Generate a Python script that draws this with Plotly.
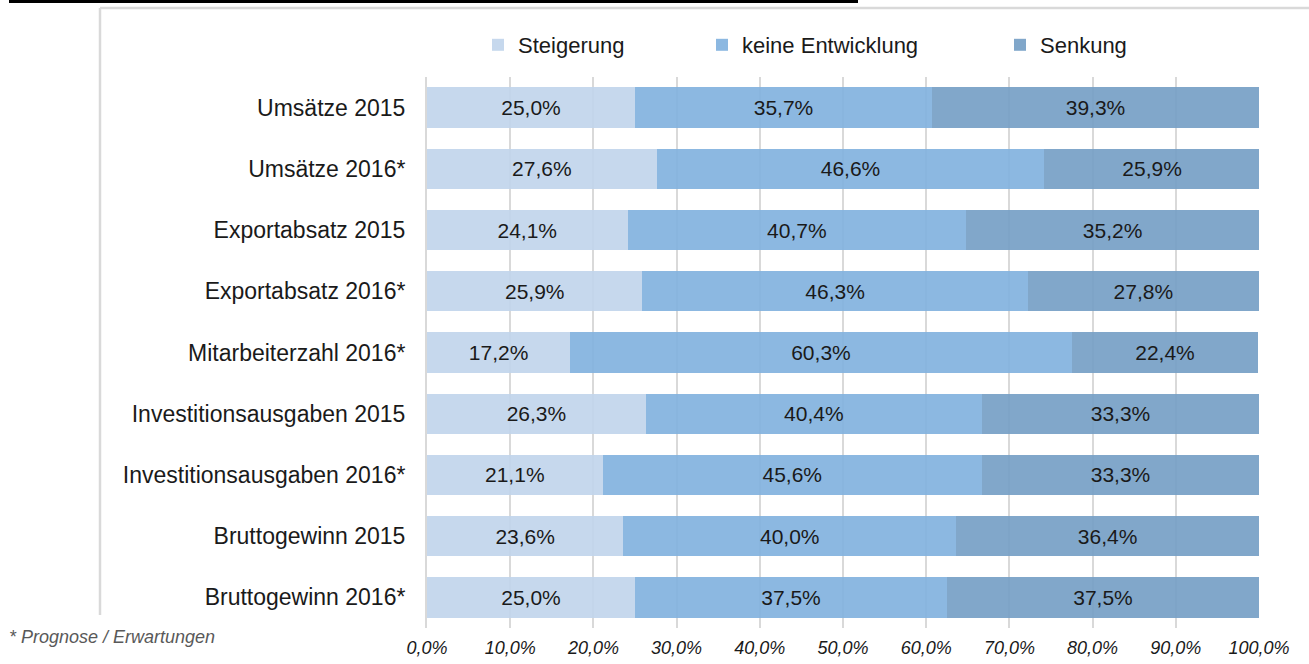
import plotly.graph_objects as go

categories = [
    "Umsätze 2015",
    "Umsätze 2016*",
    "Exportabsatz 2015",
    "Exportabsatz 2016*",
    "Mitarbeiterzahl 2016*",
    "Investitionsausgaben 2015",
    "Investitionsausgaben 2016*",
    "Bruttogewinn 2015",
    "Bruttogewinn 2016*",
]
steigerung = [25.0, 27.6, 24.1, 25.9, 17.2, 26.3, 21.1, 23.6, 25.0]
keine_entwicklung = [35.7, 46.6, 40.7, 46.3, 60.3, 40.4, 45.6, 40.0, 37.5]
senkung = [39.3, 25.9, 35.2, 27.8, 22.4, 33.3, 33.3, 36.4, 37.5]
series_names = ["Steigerung", "keine Entwicklung", "Senkung"]
tick_values = [0, 10, 20, 30, 40, 50, 60, 70, 80, 90, 100]
footnote = "* Prognose / Erwartungen"

colors = ["rgba(193,213,236,0.92)", "rgba(130,178,222,0.92)", "rgba(118,159,198,0.92)"]
legend_widths = [179, 253, None]

W, H = 1309, 664
L, R, T, B = 427, 50, 77, 36
PW = W - L - R
PH = H - T - B


def fmt(v):
    return f"{v:.1f}".replace(".", ",") + "%"


fig = go.Figure()
for name, vals, col, lw in zip(series_names, [steigerung, keine_entwicklung, senkung], colors, legend_widths):
    kw = {}
    if lw is not None:
        kw["legendwidth"] = lw
    fig.add_trace(go.Bar(
        y=categories,
        x=vals,
        name=name,
        orientation="h",
        marker=dict(color=col, line=dict(width=0)),
        text=[fmt(v) for v in vals],
        textposition="inside",
        insidetextanchor="middle",
        textangle=0,
        constraintext="none",
        textfont=dict(family="Liberation Sans, Arial, sans-serif", size=21, color="#1a1a1a"),
        hoverinfo="skip",
        **kw,
    ))


def px_x(px):
    return (px - L) / PW


def px_y(py):
    return (H - B - py) / PH


shapes = [
    dict(type="line", xref="paper", yref="paper", x0=px_x(9), x1=px_x(858), y0=px_y(1.5), y1=px_y(1.5),
         line=dict(color="black", width=3)),
    dict(type="line", xref="paper", yref="paper", x0=px_x(100), x1=px_x(1312), y0=px_y(8), y1=px_y(8),
         line=dict(color="#D9D9D9", width=2.5)),
    dict(type="line", xref="paper", yref="paper", x0=px_x(100), x1=px_x(100), y0=px_y(8), y1=px_y(615),
         line=dict(color="#D9D9D9", width=2.5)),
]

fig.update_layout(
    width=W, height=H,
    margin=dict(l=L, r=R, t=T, b=B, pad=0, autoexpand=False),
    barmode="stack",
    bargap=0.34,
    plot_bgcolor="white",
    paper_bgcolor="white",
    font=dict(family="Liberation Sans, Arial, sans-serif", color="#1a1a1a"),
    showlegend=True,
    legend=dict(
        orientation="h",
        xref="container", yref="container",
        x=478 / W, xanchor="left",
        y=1 - 45 / H, yanchor="middle",
        font=dict(size=22, color="#1a1a1a"),
        bgcolor="rgba(0,0,0,0)",
        traceorder="normal",
    ),
    xaxis=dict(
        range=[0, 100],
        tickvals=tick_values,
        ticktext=[fmt(v) for v in tick_values],
        tickfont=dict(size=18, color="#1a1a1a", style="italic"),
        showgrid=True,
        gridcolor="#D9D9D9",
        gridwidth=1.5,
        zeroline=False,
        showline=False,
        ticks="",
        ticklabelstandoff=7,
        automargin=False,
        fixedrange=True,
    ),
    yaxis=dict(
        autorange="reversed",
        tickfont=dict(size=23, color="#1a1a1a"),
        showline=True,
        linecolor="#D9D9D9",
        linewidth=2,
        ticks="",
        ticklabelstandoff=15,
        showgrid=False,
        automargin=False,
        fixedrange=True,
    ),
    shapes=shapes,
    annotations=[
        dict(text=footnote, xref="paper", yref="paper", x=px_x(7), y=px_y(637),
             xanchor="left", yanchor="middle", showarrow=False,
             font=dict(size=18, color="#595959", style="italic")),
    ],
)

fig.write_html("out.html")
